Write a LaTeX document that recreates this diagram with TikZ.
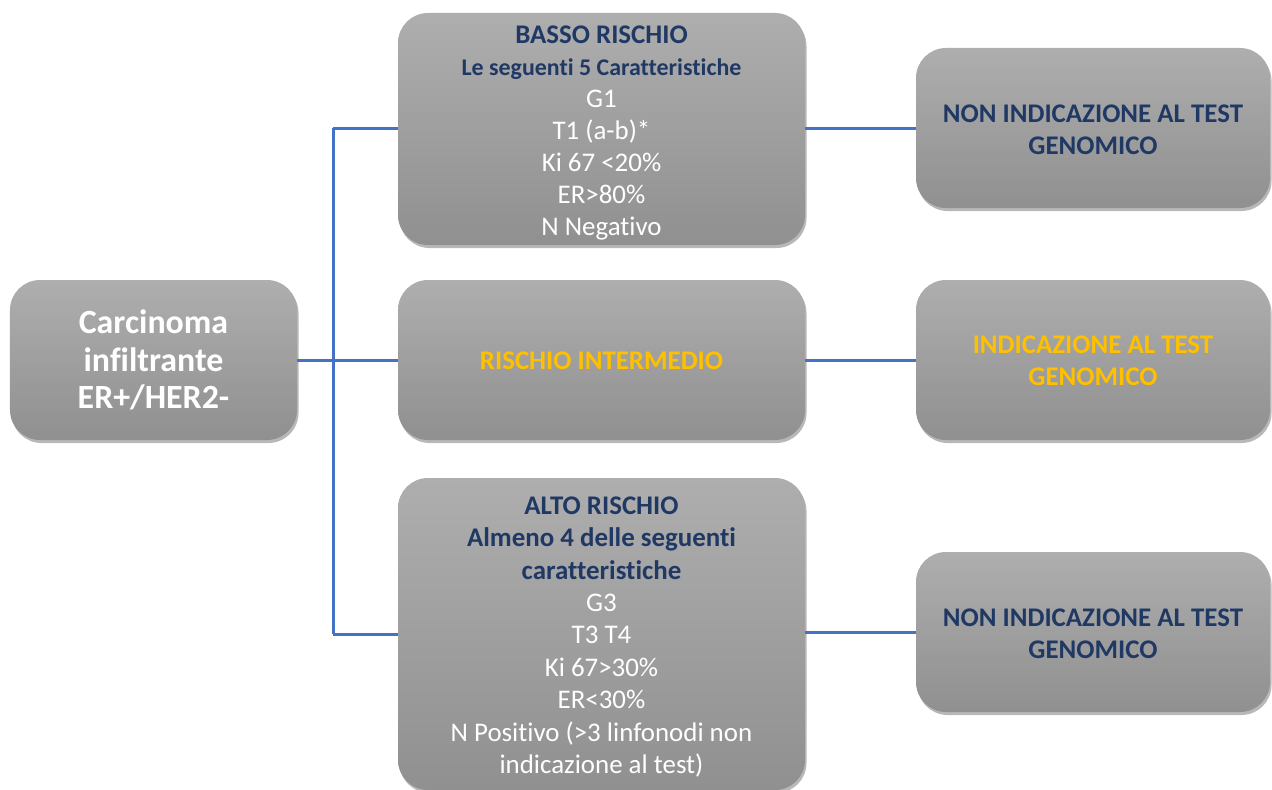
\documentclass[tikz,border=0pt]{standalone}
\usepackage{fontspec}
\setmainfont{Carlito}[Ligatures={NoCommon}]
\usetikzlibrary{shadows}
\definecolor{navy}{HTML}{1F3864}
\definecolor{gold}{HTML}{FFC000}
\definecolor{lineblue}{HTML}{4472C4}
\definecolor{gtop}{HTML}{AEAEAE}
\definecolor{gbot}{HTML}{909090}
\begin{document}
\begin{tikzpicture}[x=1bp,y=-1bp,
  box/.style={rectangle, rounded corners=30bp, top color=gtop, bottom color=gbot, draw=none,
    inner sep=0pt,
    drop shadow={shadow xshift=1.5bp, shadow yshift=-3bp, opacity=0.28, fill=black}},
  txt/.style={align=center, text=white, inner sep=0pt},
  midfont/.style={font=\fontsize{27}{32}\selectfont},
  rfont/.style={font=\fontsize{27}{32}\selectfont\bfseries},
  bigfont/.style={font=\fontsize{34}{38}\selectfont\bfseries},
  conn/.style={draw=lineblue, line width=3bp}]
\useasboundingbox (0,0) rectangle (1272,790);
% boxes
\node[box, minimum width=287bp, minimum height=160bp] (start) at (153.5,360) {};
\node[box, minimum width=407bp, minimum height=232bp] (basso) at (601.5,129) {};
\node[box, minimum width=407bp, minimum height=160bp] (inter) at (601.5,360) {};
\node[box, minimum width=407bp, minimum height=312bp] (alto) at (601.5,634) {};
\node[box, minimum width=354bp, minimum height=160bp] (r1) at (1093,128) {};
\node[box, minimum width=354bp, minimum height=160bp] (r2) at (1093,360) {};
\node[box, minimum width=354bp, minimum height=160bp] (r3) at (1093,632) {};
% texts
\node[txt, bigfont] (startT) at (start.center) {Carcinoma\\infiltrante\\ER+/HER2-};
\node[txt, midfont] (bassoT) at ([yshift=-4bp]basso.center)
  {\textcolor{navy}{\bfseries BASSO RISCHIO}\\\textcolor{navy}{\bfseries\fontsize{24}{31}\selectfont Le seguenti 5 Caratteristiche}\\G1\\T1 (a-b)*\\Ki 67 <20\%\\ER>80\%\\N Negativo};
\node[txt, midfont, text=gold] (interT) at ([yshift=-1bp]inter.center) {\bfseries RISCHIO INTERMEDIO};
\node[txt, font=\fontsize{27}{32.5}\selectfont] (altoT) at ([yshift=-3bp]alto.center)
  {\textcolor{navy}{\bfseries ALTO RISCHIO}\\\textcolor{navy}{\bfseries Almeno 4 delle seguenti}\\\textcolor{navy}{\bfseries caratteristiche}\\G3\\T3 T4\\Ki 67>30\%\\ER<30\%\\N Positivo (>3 linfonodi non\\indicazione al test)};
\node[txt, rfont, text=navy] (r1T) at ([yshift=-2bp]r1.center) {NON INDICAZIONE AL TEST\\GENOMICO};
\node[txt, rfont, text=gold] (r2T) at ([yshift=-1bp]r2.center) {INDICAZIONE AL TEST\\GENOMICO};
\node[txt, rfont, text=navy] (r3T) at ([yshift=-2bp]r3.center) {NON INDICAZIONE AL TEST\\GENOMICO};
% connectors
\coordinate (j) at (333,360);
\coordinate (jt) at (333,128);
\coordinate (jb) at (333,634);
\draw[conn] (start.east) -- (j);
\draw[conn] (jt) -- (jb);
\draw[conn] (jt) -- (basso.west|-jt);
\draw[conn] (j) -- (inter.west);
\draw[conn] (jb) -- (alto.west|-jb);
\draw[conn] (basso.east|-r1.west) -- (r1.west);
\draw[conn] (inter.east) -- (r2.west);
\draw[conn] (alto.east|-r3.west) -- (r3.west);
\end{tikzpicture}
\end{document}
